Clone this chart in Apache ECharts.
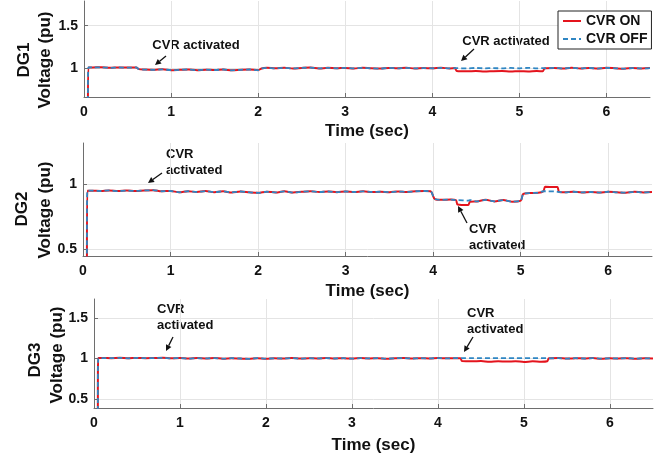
<!DOCTYPE html>
<html>
<head>
<meta charset="utf-8">
<script src="https://cdn.jsdelivr.net/npm/echarts@6/dist/echarts.min.js"></script>
<style>
  html, body { margin: 0; padding: 0; background: #fff; }
  #chart { width: 661px; height: 458px; }
</style>
</head>
<body>
<div id="chart"></div>
<script>
// ---- DG1 terminal voltage (pu) ----
const timeDG1 = [0, 0.04, 0.05, 0.1, 0.2, 0.3, 0.4, 0.5, 0.6, 0.63, 0.7, 0.8, 0.9, 1.0, 1.1, 1.2, 1.3, 1.4, 1.5, 1.6, 1.7, 1.8, 1.9, 2.0, 2.04, 2.1, 2.2, 2.3, 2.4, 2.5, 2.6, 2.7, 2.8, 2.9, 3.0, 3.1, 3.2, 3.3, 3.4, 3.5, 3.6, 3.7, 3.8, 3.9, 4.0, 4.1, 4.2, 4.26, 4.28, 4.4, 4.5, 4.6, 4.7, 4.8, 4.9, 5.0, 5.1, 5.2, 5.27, 5.29, 5.4, 5.5, 5.6, 5.7, 5.8, 5.9, 6.0, 6.1, 6.2, 6.3, 6.4, 6.5];
const dg1Off  = [0, 0, 1.01, 1.01, 1.012, 1.006, 1.01, 1.008, 1.01, 0.99, 0.985, 0.982, 0.988, 0.978, 0.982, 0.986, 0.978, 0.984, 0.98, 0.986, 0.976, 0.982, 0.986, 0.978, 0.998, 1.005, 1.0, 1.006, 0.998, 1.004, 1.008, 0.998, 1.005, 1.0, 1.004, 0.998, 1.006, 1.0, 0.997, 1.004, 1.0, 1.006, 0.998, 1.003, 1.0, 1.005, 0.999, 1.002, 1.002, 0.998, 1.004, 1.0, 1.003, 0.998, 1.004, 1.0, 1.005, 0.999, 1.002, 1.0, 1.004, 0.998, 1.005, 0.999, 1.004, 0.997, 1.005, 1.0, 0.996, 1.003, 0.998, 1.002];
const dg1On   = [0, 0, 1.01, 1.01, 1.012, 1.006, 1.01, 1.008, 1.01, 0.99, 0.985, 0.982, 0.988, 0.978, 0.982, 0.986, 0.978, 0.984, 0.98, 0.986, 0.976, 0.982, 0.986, 0.978, 0.998, 1.005, 1.0, 1.006, 0.998, 1.004, 1.008, 0.998, 1.005, 1.0, 1.004, 0.998, 1.006, 1.0, 0.997, 1.004, 1.0, 1.006, 0.998, 1.003, 1.0, 1.005, 0.999, 1.002, 0.968, 0.964, 0.967, 0.962, 0.966, 0.968, 0.962, 0.966, 0.963, 0.968, 0.965, 1.0, 1.004, 0.998, 1.005, 0.999, 1.004, 0.997, 1.005, 1.0, 0.996, 1.003, 0.998, 1.002];

// ---- DG2 terminal voltage (pu) ----
const timeDG2 = [0, 0.04, 0.05, 0.1, 0.2, 0.3, 0.4, 0.5, 0.6, 0.7, 0.8, 0.9, 1.0, 1.1, 1.2, 1.3, 1.4, 1.5, 1.6, 1.7, 1.8, 1.9, 2.0, 2.1, 2.2, 2.3, 2.4, 2.5, 2.6, 2.7, 2.8, 2.9, 3.0, 3.1, 3.2, 3.3, 3.4, 3.5, 3.6, 3.7, 3.8, 3.9, 3.97, 4.02, 4.1, 4.2, 4.26, 4.28, 4.4, 4.42, 4.5, 4.6, 4.7, 4.8, 4.9, 5.0, 5.03, 5.1, 5.2, 5.26, 5.28, 5.4, 5.42, 5.44, 5.5, 5.6, 5.7, 5.8, 5.9, 6.0, 6.1, 6.2, 6.3, 6.4, 6.5];
const dg2Off  = [0, 0, 0.948, 0.948, 0.946, 0.95, 0.945, 0.949, 0.946, 0.95, 0.952, 0.944, 0.946, 0.936, 0.944, 0.938, 0.945, 0.937, 0.943, 0.935, 0.942, 0.936, 0.932, 0.94, 0.935, 0.943, 0.934, 0.94, 0.944, 0.938, 0.942, 0.937, 0.942, 0.938, 0.943, 0.938, 0.94, 0.937, 0.942, 0.939, 0.944, 0.946, 0.944, 0.884, 0.878, 0.88, 0.876, 0.876, 0.872, 0.876, 0.866, 0.878, 0.866, 0.876, 0.864, 0.872, 0.924, 0.93, 0.932, 0.944, 0.944, 0.942, 0.94, 0.938, 0.936, 0.94, 0.935, 0.938, 0.934, 0.94, 0.936, 0.933, 0.94, 0.935, 0.938];
const dg2On   = [0, 0, 0.948, 0.948, 0.946, 0.95, 0.945, 0.949, 0.946, 0.95, 0.952, 0.944, 0.946, 0.936, 0.944, 0.938, 0.945, 0.937, 0.943, 0.935, 0.942, 0.936, 0.932, 0.94, 0.935, 0.943, 0.934, 0.94, 0.944, 0.938, 0.942, 0.937, 0.942, 0.938, 0.943, 0.938, 0.94, 0.937, 0.942, 0.939, 0.944, 0.946, 0.944, 0.884, 0.878, 0.88, 0.876, 0.842, 0.838, 0.862, 0.866, 0.878, 0.866, 0.876, 0.864, 0.872, 0.924, 0.93, 0.932, 0.944, 0.978, 0.976, 0.976, 0.938, 0.936, 0.94, 0.935, 0.938, 0.934, 0.94, 0.936, 0.933, 0.94, 0.935, 0.938];

// ---- DG3 terminal voltage (pu) ----
const timeDG3 = [0, 0.04, 0.05, 0.1, 0.2, 0.3, 0.4, 0.5, 0.6, 0.7, 0.8, 0.9, 1.0, 1.1, 1.2, 1.3, 1.4, 1.5, 1.6, 1.7, 1.8, 1.9, 2.0, 2.1, 2.2, 2.3, 2.4, 2.5, 2.6, 2.7, 2.8, 2.9, 3.0, 3.1, 3.2, 3.3, 3.4, 3.5, 3.6, 3.7, 3.8, 3.9, 4.0, 4.1, 4.2, 4.26, 4.28, 4.4, 4.5, 4.6, 4.7, 4.8, 4.9, 5.0, 5.1, 5.2, 5.27, 5.29, 5.4, 5.5, 5.6, 5.7, 5.8, 5.9, 6.0, 6.1, 6.2, 6.3, 6.4, 6.5];
const dg3Off  = [0, 0, 1.006, 1.006, 1.004, 1.008, 1.003, 1.007, 1.004, 1.006, 1.008, 1.002, 1.006, 0.999, 1.005, 1.001, 1.006, 0.998, 1.004, 1.0, 0.996, 1.004, 0.998, 1.003, 1.0, 1.005, 0.999, 1.004, 1.001, 1.006, 1.0, 1.004, 0.999, 1.005, 1.001, 1.004, 0.998, 1.003, 1.006, 1.0, 1.004, 1.001, 1.006, 1.002, 1.004, 1.004, 1.006, 1.006, 1.005, 1.006, 1.005, 1.006, 1.005, 1.006, 1.005, 1.006, 1.005, 1.002, 1.005, 0.999, 1.004, 1.0, 1.005, 0.998, 1.003, 1.0, 1.004, 0.998, 1.003, 1.0];
const dg3On   = [0, 0, 1.006, 1.006, 1.004, 1.008, 1.003, 1.007, 1.004, 1.006, 1.008, 1.002, 1.006, 0.999, 1.005, 1.001, 1.006, 0.998, 1.004, 1.0, 0.996, 1.004, 0.998, 1.003, 1.0, 1.005, 0.999, 1.004, 1.001, 1.006, 1.0, 1.004, 0.999, 1.005, 1.001, 1.004, 0.998, 1.003, 1.006, 1.0, 1.004, 1.001, 1.006, 1.002, 1.004, 1.004, 0.968, 0.965, 0.968, 0.96, 0.966, 0.962, 0.967, 0.958, 0.965, 0.96, 0.966, 1.002, 1.005, 0.999, 1.004, 1.0, 1.005, 0.998, 1.003, 1.0, 1.004, 0.998, 1.003, 1.0];

const seriesNames = ['CVR ON', 'CVR OFF'];
const panelNames = ['DG1', 'DG2', 'DG3'];
const xTitle = 'Time (sec)';
const yTitle = 'Voltage (pu)';
const noteOneLine = 'CVR activated';
const noteTwoLine = ['CVR', 'activated'];

const FONT = '"Liberation Sans", Arial, Helvetica, sans-serif';
const RED = '#e4141d';
const BLUE = '#2f86c3';

const zip = (t, v) => t.map((x, i) => [x, v[i]]);

const grids = [
  { left: 84, top: 1, width: 566, height: 96 },
  { left: 83, top: 143, width: 569, height: 113 },
  { left: 94, top: 299, width: 559, height: 109 }
];
const yRanges = [[0.663, 1.79], [0.446, 1.315], [0.389, 1.735]];
const nameGaps = [26, 27, 29];

const xAxes = grids.map((g, i) => ({
  type: 'value', gridIndex: i, min: 0, max: 6.5, interval: 1,
  name: xTitle, nameLocation: 'middle', nameGap: nameGaps[i],
  nameTextStyle: { fontFamily: FONT, fontWeight: 'bold', fontSize: 17, color: '#111', verticalAlign: 'top' },
  axisLine: { lineStyle: { color: '#6e6e6e', width: 1 } },
  axisTick: { inside: true, length: 4, lineStyle: { color: '#6e6e6e' } },
  axisLabel: { fontFamily: FONT, fontWeight: 'bold', fontSize: 14, color: '#111', margin: 8, showMaxLabel: false },
  splitLine: { show: true, showMaxLine: false, lineStyle: { color: '#e4e4e4', width: 1 } }
}));

const yAxes = grids.map((g, i) => ({
  type: 'value', gridIndex: i, min: yRanges[i][0], max: yRanges[i][1],
  minInterval: 0.5, maxInterval: 0.5,
  axisLine: { show: true, lineStyle: { color: '#6e6e6e', width: 1 } },
  axisTick: { show: true, inside: true, length: 4, lineStyle: { color: '#6e6e6e' } },
  axisLabel: { fontFamily: FONT, fontWeight: 'bold', fontSize: 14, color: '#111', margin: 6, showMinLabel: false, showMaxLabel: false },
  splitLine: { show: true, showMinLine: false, showMaxLine: false, lineStyle: { color: '#e4e4e4', width: 1 } }
}));

const panels = [[timeDG1, dg1On, dg1Off], [timeDG2, dg2On, dg2Off], [timeDG3, dg3On, dg3Off]];
const series = [];
panels.forEach(([t, on, off], i) => {
  series.push({
    name: seriesNames[0], type: 'line', xAxisIndex: i, yAxisIndex: i,
    data: zip(t, on), symbol: 'none', smooth: 0.3, clip: true, animation: false,
    lineStyle: { color: RED, width: 2 }, itemStyle: { color: RED }, z: 2
  });
  series.push({
    name: seriesNames[1], type: 'line', xAxisIndex: i, yAxisIndex: i,
    data: zip(t, off), symbol: 'none', smooth: 0.3, clip: true, animation: false,
    lineStyle: { color: BLUE, width: 1.8, type: [5, 3] }, itemStyle: { color: BLUE }, z: 3
  });
});

// y-axis titles (panel name above the quantity)
const yTitlePos = [
  { dg: [24, 60], v: [45, 60] },
  { dg: [22, 209], v: [45, 210] },
  { dg: [35, 360], v: [57, 355] }
];
const graphics = [];
yTitlePos.forEach((p, i) => {
  [[panelNames[i], p.dg], [yTitle, p.v]].forEach(([txt, pos]) => {
    graphics.push({
      type: 'text', x: pos[0], y: pos[1], rotation: Math.PI / 2,
      style: { text: txt, fill: '#111', font: 'bold 17px ' + FONT, align: 'center', verticalAlign: 'middle' }
    });
  });
});

// annotation text
function note(lines, x, y, align) {
  lines.forEach((s, k) => {
    graphics.push({
      type: 'text', x: x, y: y + k * 16,
      style: { text: s, fill: '#111', font: 'bold 13px ' + FONT, align: align, verticalAlign: 'middle' }
    });
  });
}
// annotation arrow from (x1,y1) to the tip (x2,y2)
function arrow(x1, y1, x2, y2) {
  const a = Math.atan2(y2 - y1, x2 - x1);
  const L = 6, W = 3;
  const bx = x2 - L * Math.cos(a), by = y2 - L * Math.sin(a);
  graphics.push({ type: 'line', shape: { x1: x1, y1: y1, x2: bx, y2: by }, style: { stroke: '#111', lineWidth: 1.3 } });
  graphics.push({
    type: 'polygon',
    shape: { points: [[x2, y2], [bx + W * Math.sin(a), by - W * Math.cos(a)], [bx - W * Math.sin(a), by + W * Math.cos(a)]] },
    style: { fill: '#111' }
  });
}
note([noteOneLine], 196, 45, 'center');  arrow(166, 56, 155, 65);
note([noteOneLine], 506, 41, 'center');  arrow(474, 49, 461, 61);
note(noteTwoLine, 166, 154, 'left');     arrow(162, 173, 148, 183);
note(noteTwoLine, 469, 229, 'left');     arrow(467, 223, 458, 206);
note(noteTwoLine, 157, 309, 'left');     arrow(173, 337, 166, 351);
note(noteTwoLine, 467, 313, 'left');     arrow(473, 337, 464, 352);

const chart = echarts.init(document.getElementById('chart'), null, { renderer: 'canvas' });
chart.setOption({
  animation: false,
  backgroundColor: '#fff',
  grid: grids,
  xAxis: xAxes,
  yAxis: yAxes,
  legend: {
    data: seriesNames, orient: 'vertical', left: 558, top: 11,
    itemWidth: 18, itemHeight: 12, itemGap: 4, padding: [3, 4, 3, 4],
    itemStyle: { opacity: 0 },
    borderColor: '#222', borderWidth: 1, borderRadius: 0, backgroundColor: '#fff',
    textStyle: { fontFamily: FONT, fontWeight: 'bold', fontSize: 14, color: '#111' }
  },
  series: series,
  graphic: graphics
});
</script>
</body>
</html>
